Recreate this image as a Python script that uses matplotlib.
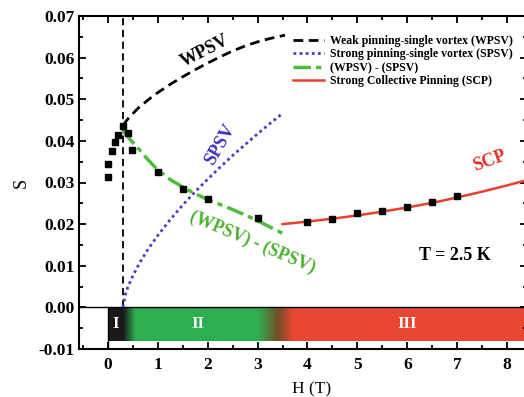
import numpy as np
import matplotlib
matplotlib.use("Agg")
import matplotlib.pyplot as plt
from matplotlib.ticker import MultipleLocator

plt.rcParams['font.family'] = ['Liberation Serif', 'DejaVu Serif']
plt.rcParams['font.weight'] = 'bold'

# measured data (black squares)
h_data = [0.0, 0.0, 0.08, 0.14, 0.2, 0.3, 0.4, 0.48, 1.0, 1.5, 2.0, 3.0,
          4.0, 4.5, 5.0, 5.5, 6.0, 6.5, 7.0]
s_data = [0.0313, 0.0344, 0.0376, 0.0397, 0.0413, 0.0435, 0.0418, 0.0378,
          0.0325, 0.0284, 0.0260, 0.0214,
          0.0205, 0.0212, 0.0226, 0.0231, 0.0241, 0.0252, 0.0267]

# fit curves
h_wpsv = [0.3, 0.4, 0.6, 0.8, 1.0, 1.25, 1.5, 1.75, 2.0, 2.25, 2.5, 2.75,
          3.0, 3.25, 3.55]
s_wpsv = [0.0437, 0.0453, 0.0478, 0.0498, 0.0516, 0.0536, 0.0554, 0.0571,
          0.0587, 0.0602, 0.0616, 0.0628, 0.0638, 0.0646, 0.0654]

h_spsv = [0.3, 0.35, 0.4, 0.5, 0.64, 0.8, 1.0, 1.25, 1.5, 1.75, 2.0, 2.25,
          2.5, 2.75, 3.0, 3.25, 3.5]
s_spsv = [0.0, 0.0031, 0.0049, 0.0076, 0.0108, 0.0139, 0.0173, 0.0211,
          0.0246, 0.0278, 0.0308, 0.0337, 0.0365, 0.0391, 0.0417, 0.0442,
          0.0466]

h_diff = [0.3, 0.4, 0.5, 0.6, 0.8, 1.0, 1.25, 1.5, 1.75, 2.0, 2.25, 2.5,
          2.75, 3.0, 3.25, 3.5]
s_diff = [0.0425, 0.0410, 0.0396, 0.0383, 0.0355, 0.0330, 0.0307, 0.0289,
          0.0273, 0.0259, 0.0247, 0.0235, 0.0222, 0.0208, 0.0193, 0.0178]

h_scp = [3.5, 4.0, 4.5, 5.0, 5.5, 6.0, 6.5, 7.0, 7.5, 8.0, 8.5]
s_scp = [0.0200, 0.0206, 0.0213, 0.0221, 0.0230, 0.0240, 0.0251, 0.0264,
         0.0278, 0.0293, 0.0309]

# phase band colours (H anchors, rgb)
band_h = [0.0, 0.3, 0.55, 3.0, 3.4, 3.7, 8.4]
band_rgb = [(0.10, 0.10, 0.10), (0.10, 0.10, 0.10), (0.18, 0.69, 0.32),
            (0.18, 0.69, 0.32), (0.45, 0.30, 0.15), (0.91, 0.28, 0.20),
            (0.91, 0.28, 0.20)]

fig = plt.figure(figsize=(5.24, 3.97), dpi=100)
ax = fig.add_axes([79/524, 48/397, 448/524, 333/397])

# gradient band
hh = np.linspace(0, 8.4, 840)
img = np.stack([np.interp(hh, band_h, [c[k] for c in band_rgb]) for k in range(3)], axis=-1)
ax.imshow(img[np.newaxis, :, :], extent=(0, 8.4, -0.008, 0), aspect='auto',
          interpolation='bilinear', zorder=1)
ax.axhline(0, color='black', lw=1.0, zorder=2)
ax.plot([0, 0], [-0.01, 0], color='black', lw=1.0, zorder=2)
ax.text(0.15, -0.004, 'I', color='white', fontsize=12, ha='center', va='center', zorder=3)
ax.text(1.8, -0.004, 'II', color='white', fontsize=12, ha='center', va='center', zorder=3)
ax.text(6.0, -0.004, 'III', color='white', fontsize=12, ha='center', va='center', zorder=3)

ax.plot([0.3, 0.3], [0, 0.07], color='black', lw=1.3, ls=(0, (4, 2.5)), zorder=2)

ax.plot(h_wpsv, s_wpsv, color='black', lw=2, ls=(0, (3.5, 2)),
        label='Weak pinning-single vortex (WPSV)', zorder=3)
ax.plot(h_spsv, s_spsv, color='#4a3cc0', lw=2, ls=(0, (1, 1.2)),
        label='Strong pinning-single vortex (SPSV)', zorder=3)
ax.plot(h_diff, s_diff, color='#4cbc3a', lw=2.5, ls=(0, (5, 1.5, 1.5, 1.5)),
        label='(WPSV) - (SPSV)', zorder=4)
ax.plot(h_scp, s_scp, color='#e8402a', lw=1.8,
        label='Strong Collective Pinning (SCP)', zorder=4)
ax.plot(h_data, s_data, 's', color='black', ms=4.5, zorder=5)

ax.text(1.95, 0.0615, 'WPSV', fontsize=13, rotation=27, ha='center', va='center')
ax.text(2.25, 0.0392, 'SPSV', fontsize=13, rotation=60, ha='center', va='center', color='#4030b8')
ax.text(2.9, 0.0155, '(WPSV) - (SPSV)', fontsize=13, rotation=-23, ha='center', va='center',
        color='#4cb030')
ax.text(7.65, 0.0352, 'SCP', fontsize=13, rotation=20, ha='center', va='center', color='#e03020')
ax.text(6.95, 0.0125, 'T = 2.5 K', fontsize=13, ha='center', va='center')

ax.set_xlim(-0.58, 8.4)
ax.set_ylim(-0.01, 0.07)
ax.xaxis.set_minor_locator(MultipleLocator(0.5))
ax.yaxis.set_minor_locator(MultipleLocator(0.005))
ax.set_xticks(range(0, 9))
ax.set_yticks(np.arange(-0.01, 0.071, 0.01))
ax.set_yticklabels(['-0.01', '0.00', '0.01', '0.02', '0.03', '0.04', '0.05', '0.06', '0.07'])
ax.tick_params(which='both', direction='in', top=True, right=True, labelsize=12.5, width=1.3)
ax.tick_params(which='major', length=5)
ax.tick_params(which='minor', length=3)
ax.tick_params(axis='x', pad=6)
ax.tick_params(axis='y', pad=3)
for sp in ax.spines.values():
    sp.set_linewidth(1.5)

ax.set_xlabel('H (T)', fontsize=12.5)
ax.set_ylabel('S', fontsize=13)
ax.xaxis.set_label_coords(0.52, -0.098)
ax.yaxis.set_label_coords(-0.109, 0.5)

ax.legend(loc='upper left', bbox_to_anchor=(293/524, 1 - 35/397), bbox_transform=fig.transFigure,
          frameon=False, fontsize=8.5, handlelength=2.6, handletextpad=0.5,
          labelspacing=0.12, borderpad=0, borderaxespad=0)

fig.savefig('out.png', dpi=100)
